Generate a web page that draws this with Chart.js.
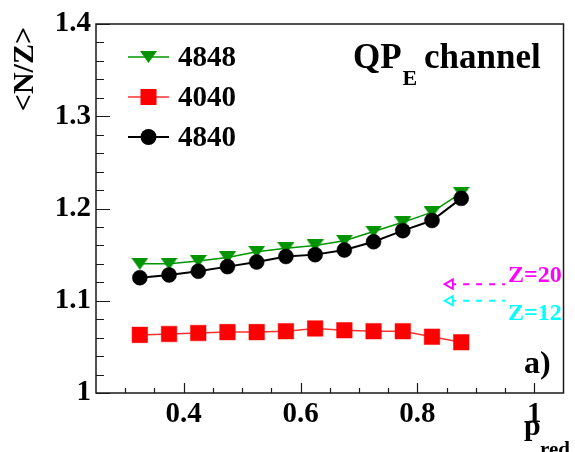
<!DOCTYPE html>
<html>
<head>
<meta charset="utf-8">
<script src="https://cdn.jsdelivr.net/npm/chart.js@4/dist/chart.umd.min.js"></script>
<style>
  html, body { margin: 0; padding: 0; background: #ffffff; }
  #wrap { width: 575px; height: 452px; }
</style>
</head>
<body>
<div id="wrap"><canvas id="c" width="575" height="452"></canvas></div>
<script>
// Reduced momentum bins
const pRed = [0.325, 0.375, 0.425, 0.475, 0.525, 0.575, 0.625, 0.675, 0.725, 0.775, 0.825, 0.875];

// <N/Z> of the QP_E channel for each system
const nz4848 = [1.140, 1.140, 1.143, 1.147, 1.153, 1.157, 1.160, 1.165, 1.175, 1.185, 1.196, 1.217];
const nz4040 = [1.063, 1.064, 1.065, 1.066, 1.066, 1.067, 1.070, 1.068, 1.067, 1.067, 1.061, 1.055];
const nz4840 = [1.125, 1.128, 1.132, 1.137, 1.142, 1.148, 1.150, 1.155, 1.164, 1.176, 1.187, 1.211];
const systemNames = ['4848', '4040', '4840'];

// Axis ticks
const xTickValues = [0.4, 0.6, 0.8, 1.0];
const xTickLabels = ['0.4', '0.6', '0.8', '1'];
const xMinorTicks = [0.3, 0.35, 0.45, 0.5, 0.55, 0.65, 0.7, 0.75, 0.85, 0.9, 0.95];
const yTickValues = [1.0, 1.1, 1.2, 1.3, 1.4];
const yTickLabels = ['1', '1.1', '1.2', '1.3', '1.4'];
const yMinorTicks = [1.02, 1.04, 1.06, 1.08, 1.12, 1.14, 1.16, 1.18, 1.22, 1.24, 1.26, 1.28, 1.32, 1.34, 1.36, 1.38];

// Reference N/Z values marked by arrows
const refLabels = ['Z=20', 'Z=12'];
const refNZ = [1.118, 1.100];
const refArrowX = [0.856, 0.95];
const refColors = ['#ff00ff', '#00ffff'];

const SERIF = '"Liberation Serif", "Times New Roman", Times, serif';
const GREEN = '#009400';
const RED = '#ff0000';
const BLACK = '#000000';

// Downward triangle marker (flat top, centred on its bounding box)
function makeTriangle(w, h, color) {
  const cv = document.createElement('canvas');
  cv.width = w; cv.height = h;
  const g = cv.getContext('2d');
  g.fillStyle = color;
  g.beginPath();
  g.moveTo(0, 0);
  g.lineTo(w, 0);
  g.lineTo(w / 2, h);
  g.closePath();
  g.fill();
  return cv;
}
const triDown = makeTriangle(17, 12, GREEN);

const toXY = (ys) => pRed.map((x, i) => ({ x: x, y: ys[i] }));

const datasets = [
  {
    label: systemNames[0], data: toXY(nz4848), order: 2,
    borderColor: GREEN, borderWidth: 1.5, backgroundColor: GREEN,
    pointStyle: triDown, pointRadius: 8, pointHoverRadius: 8
  },
  {
    label: systemNames[1], data: toXY(nz4040), order: 1,
    borderColor: '#ff3030', borderWidth: 1.5,
    pointStyle: 'rect', pointRadius: 11, pointHoverRadius: 11,
    pointBackgroundColor: RED, pointBorderColor: RED, pointBorderWidth: 0.5
  },
  {
    label: systemNames[2], data: toXY(nz4840), order: 0,
    borderColor: BLACK, borderWidth: 2,
    pointStyle: 'circle', pointRadius: 7.5, pointHoverRadius: 7.5,
    pointBackgroundColor: BLACK, pointBorderColor: BLACK, pointBorderWidth: 0.5
  }
];

refLabels.forEach((name, i) => {
  datasets.push({
    label: name,
    data: [{ x: refArrowX[0], y: refNZ[i] }, { x: refArrowX[1], y: refNZ[i] }],
    order: 3,
    borderColor: refColors[i], borderWidth: 2, borderDash: [6, 7],
    pointStyle: 'triangle', pointRotation: [-90, 0], pointRadius: [5.5, 0], pointHoverRadius: [5.5, 0],
    pointBackgroundColor: '#ffffff', pointBorderColor: refColors[i], pointBorderWidth: 1.8
  });
});

// Frame, inward ticks, legend and annotations
const decorations = {
  id: 'decorations',
  beforeDatasetsDraw(chart) {
    const ctx = chart.ctx;
    const a = chart.chartArea;
    const xs = chart.scales.x, ys = chart.scales.y;
    ctx.save();
    ctx.strokeStyle = '#1a1a1a';
    ctx.lineWidth = 1.5;
    ctx.strokeRect(a.left, a.top, a.right - a.left, a.bottom - a.top);
    ctx.lineWidth = 1.2;
    ctx.beginPath();
    yTickValues.forEach(v => { const p = Math.round(ys.getPixelForValue(v)) + 0.5; ctx.moveTo(a.left, p); ctx.lineTo(a.left + 14, p); });
    yMinorTicks.forEach(v => { const p = Math.round(ys.getPixelForValue(v)) + 0.5; ctx.moveTo(a.left, p); ctx.lineTo(a.left + 8, p); });
    xTickValues.forEach(v => { const p = Math.round(xs.getPixelForValue(v)) + 0.5; ctx.moveTo(p, a.bottom); ctx.lineTo(p, a.bottom - 10); });
    xMinorTicks.forEach(v => { const p = Math.round(xs.getPixelForValue(v)) + 0.5; ctx.moveTo(p, a.bottom); ctx.lineTo(p, a.bottom - 5); });
    ctx.stroke();
    ctx.restore();
  },
  afterDraw(chart) {
    const ctx = chart.ctx;
    const ys = chart.scales.y;
    ctx.save();
    ctx.textBaseline = 'alphabetic';

    // Legend: line with marker, then label
    const rows = [57, 97, 137];
    [0, 1, 2].forEach((i) => {
      const ds = chart.data.datasets[i];
      const y = rows[i];
      ctx.strokeStyle = ds.borderColor;
      ctx.lineWidth = ds.borderWidth;
      ctx.beginPath(); ctx.moveTo(128, y); ctx.lineTo(169, y); ctx.stroke();
      if (i === 0) {
        ctx.drawImage(triDown, 148.5 - triDown.width / 2, y - triDown.height / 2);
      } else if (i === 1) {
        ctx.fillStyle = RED; ctx.fillRect(140.5, y - 8, 16, 16);
      } else {
        ctx.fillStyle = BLACK; ctx.beginPath(); ctx.arc(148.5, y, 8, 0, Math.PI * 2); ctx.fill();
      }
      ctx.fillStyle = '#000';
      ctx.font = 'bold 29px ' + SERIF;
      ctx.textAlign = 'left';
      ctx.fillText(ds.label, 178, y + 9);
    });

    // Panel title
    ctx.fillStyle = '#000';
    ctx.textAlign = 'left';
    ctx.font = 'bold 35px ' + SERIF;
    ctx.fillText('QP', 353, 68);
    const qpW = ctx.measureText('QP').width;
    ctx.font = 'bold 22px ' + SERIF;
    ctx.fillText('E', 353 + qpW + 1, 85);
    ctx.font = 'bold 35px ' + SERIF;
    ctx.fillText('channel', 424, 68);

    // Panel tag
    ctx.font = 'bold 32px ' + SERIF;
    ctx.fillText('a)', 524, 373);

    // Reference labels next to the arrows
    ctx.font = 'bold 24px ' + SERIF;
    ctx.fillStyle = refColors[0];
    ctx.fillText(refLabels[0], 508, ys.getPixelForValue(refNZ[0]) - 2);
    ctx.fillStyle = refColors[1];
    ctx.fillText(refLabels[1], 508, ys.getPixelForValue(refNZ[1]) + 19);

    // Axis titles
    ctx.fillStyle = '#000';
    ctx.font = 'bold 30px ' + SERIF;
    ctx.save();
    ctx.translate(33, 27);
    ctx.rotate(-Math.PI / 2);
    ctx.textAlign = 'right';
    ctx.fillText('<N/Z>', 0, 0);
    ctx.restore();

    ctx.textAlign = 'left';
    ctx.font = 'bold 30px ' + SERIF;
    ctx.fillText('p', 524, 435);
    ctx.font = 'bold 21px ' + SERIF;
    ctx.fillText('red', 540, 456);
    ctx.restore();
  }
};

new Chart(document.getElementById('c'), {
  type: 'line',
  data: { datasets: datasets },
  options: {
    responsive: false,
    devicePixelRatio: 1,
    animation: false,
    events: [],
    layout: { padding: { left: 0, right: 2, top: 24, bottom: 0 } },
    plugins: { legend: { display: false }, tooltip: { enabled: false }, title: { display: false } },
    elements: { line: { tension: 0 } },
    scales: {
      x: {
        type: 'linear', min: 0.25, max: 1.05,
        grid: { display: false, drawTicks: false },
        border: { display: false },
        afterBuildTicks: (s) => { s.ticks = xTickValues.map(v => ({ value: v })); },
        afterFit: (s) => { s.height = 59; },
        ticks: {
          autoSkip: false, maxRotation: 0, minRotation: 0, padding: 4, color: '#000',
          font: { family: SERIF, weight: 'bold', size: 29 },
          callback: (v) => { const i = xTickValues.findIndex(t => Math.abs(t - v) < 1e-6); return i >= 0 ? xTickLabels[i] : ''; }
        }
      },
      y: {
        type: 'linear', min: 1.0, max: 1.4,
        grid: { display: false, drawTicks: false },
        border: { display: false },
        afterBuildTicks: (s) => { s.ticks = yTickValues.map(v => ({ value: v })); },
        afterFit: (s) => { s.width = 96; },
        ticks: {
          autoSkip: false, padding: 5, color: '#000',
          font: { family: SERIF, weight: 'bold', size: 29 },
          callback: (v) => { const i = yTickValues.findIndex(t => Math.abs(t - v) < 1e-6); return i >= 0 ? yTickLabels[i] : ''; }
        }
      }
    }
  },
  plugins: [decorations]
});
</script>
</body>
</html>
